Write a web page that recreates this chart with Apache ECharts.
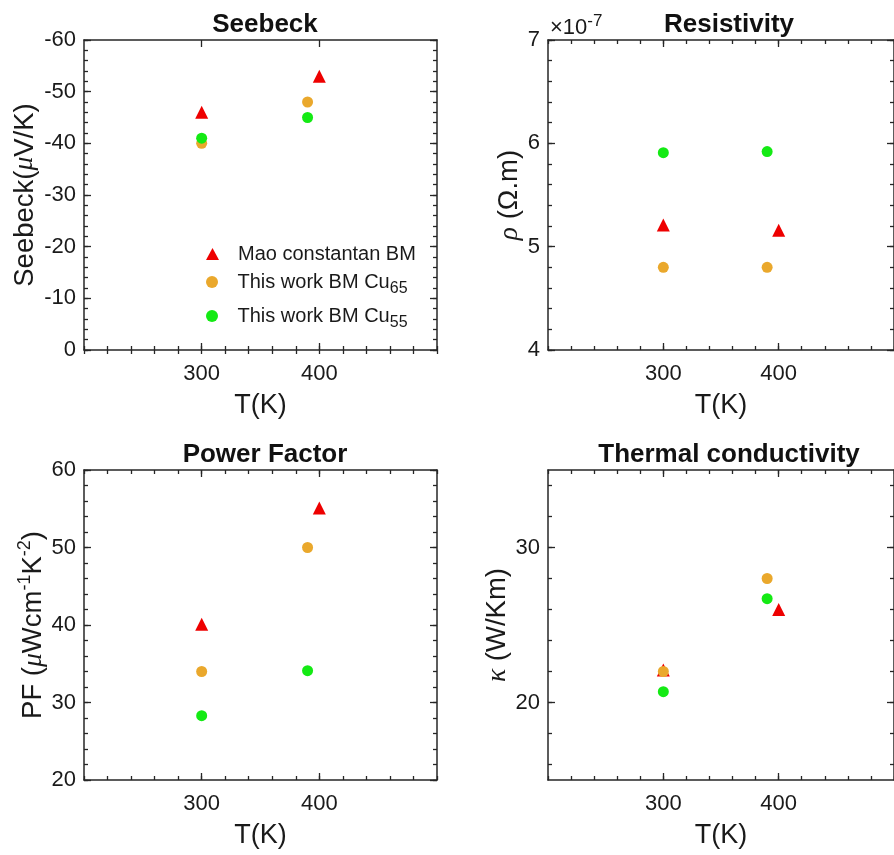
<!DOCTYPE html>
<html>
<head>
<meta charset="utf-8">
<script src="https://cdn.jsdelivr.net/npm/echarts@6/dist/echarts.min.js"></script>
<style>
  html, body { margin: 0; padding: 0; background: #fff; }
  #chart { width: 894px; height: 855px; }
</style>
</head>
<body>
<div id="chart"></div>
<script>
// ---------------- data ----------------
const seriesNames = ['Mao constantan BM', 'This work BM Cu65', 'This work BM Cu55'];
const T_mao = [300, 400];
const T_work = [300, 390];

const seebeckMao = [-46, -53];
const seebeckCu65 = [-40, -48];
const seebeckCu55 = [-41, -45];

const rhoMao = [5.21, 5.16];   // x 1e-7 Ohm.m
const rhoCu65 = [4.8, 4.8];
const rhoCu55 = [5.91, 5.92];

const pfMao = [40.1, 55.1];
const pfCu65 = [34.0, 50.0];
const pfCu55 = [28.3, 34.1];

const kappaMao = [22.1, 26.0];
const kappaCu65 = [22.0, 28.0];
const kappaCu55 = [20.7, 26.7];

// ---------------- ticks ----------------
const xRange = [200, 500];
const xLabels = [300, 400];
const seebeckRange = [-60, 0];
const seebeckLabels = [-60, -50, -40, -30, -20, -10, 0];
const rhoRange = [4, 7];
const rhoLabels = [4, 5, 6, 7];
const pfRange = [20, 60];
const pfLabels = [20, 30, 40, 50, 60];
const kappaRange = [15, 35];
const kappaLabels = [20, 30];

function steps(a, b, s) {
  const out = [];
  const n = Math.round((b - a) / s);
  for (let i = 0; i <= n; i++) out.push(+(a + i * s).toFixed(6));
  return out;
}
const xMinor = steps(200, 500, 20);
const seebeckMinor = steps(-60, 0, 2);
const rhoMinor = steps(4, 7, 0.2);
const pfMinor = steps(20, 60, 2);
const kappaMinor = steps(16, 34, 2);

// ---------------- style ----------------
const FONT = 'Liberation Sans';
const AX = '#262626';
const TXT = '#1a1a1a';
const RED = '#ee0000';
const ORANGE = '#eaa82c';
const GREEN = '#14ea14';

const nameRich = {
  n: { fontSize: 27.5, fontFamily: FONT, color: TXT, lineHeight: 36 },
  m: { fontSize: 27.5, fontFamily: 'Liberation Serif', fontStyle: 'italic', color: TXT, lineHeight: 36 },
  s: { fontSize: 18, fontFamily: FONT, color: TXT, lineHeight: 19, verticalAlign: 'top' }
};

const grids = [
  { left: 84, top: 40, width: 353, height: 310 },
  { left: 548, top: 40, width: 351, height: 310 },
  { left: 84, top: 470, width: 353, height: 310 },
  { left: 548, top: 470, width: 351, height: 310 }
];

const xAxes = [];
const yAxes = [];

function addAxes(g, yCfg) {
  const line = { show: true, onZero: false, lineStyle: { color: AX, width: 1.5 } };
  const tickStyle = { color: AX, width: 1.3 };
  // x bottom major
  xAxes.push({
    gridIndex: g, type: 'value', min: xRange[0], max: xRange[1], position: 'bottom',
    axisLine: line,
    axisTick: { show: true, inside: true, length: 7, customValues: xLabels, lineStyle: tickStyle },
    axisLabel: { show: true, customValues: xLabels, margin: 13, fontSize: 22, color: TXT, fontFamily: FONT },
    splitLine: { show: false },
    name: 'T(K)', nameLocation: 'middle', nameGap: 42,
    nameTextStyle: { fontSize: 27, color: TXT, fontFamily: FONT }
  });
  // x bottom minor
  xAxes.push({
    gridIndex: g, type: 'value', min: xRange[0], max: xRange[1], position: 'bottom',
    axisLine: { show: false },
    axisTick: { show: true, inside: true, length: 4, customValues: xMinor, lineStyle: tickStyle },
    axisLabel: { show: false }, splitLine: { show: false }
  });
  // x top major
  xAxes.push({
    gridIndex: g, type: 'value', min: xRange[0], max: xRange[1], position: 'top',
    axisLine: line,
    axisTick: { show: true, inside: true, length: 7, customValues: xLabels, lineStyle: tickStyle },
    axisLabel: { show: false }, splitLine: { show: false }
  });
  // x top minor
  xAxes.push({
    gridIndex: g, type: 'value', min: xRange[0], max: xRange[1], position: 'top',
    axisLine: { show: false },
    axisTick: { show: true, inside: true, length: 4, customValues: xMinor, lineStyle: tickStyle },
    axisLabel: { show: false }, splitLine: { show: false }
  });
  // y left major
  yAxes.push({
    gridIndex: g, type: 'value', min: yCfg.range[0], max: yCfg.range[1], position: 'left',
    inverse: !!yCfg.inverse,
    axisLine: line,
    axisTick: { show: true, inside: true, length: 7, customValues: yCfg.labels, lineStyle: tickStyle },
    axisLabel: { show: true, customValues: yCfg.labels, margin: 8, fontSize: 22, color: TXT, fontFamily: FONT },
    splitLine: { show: false },
    name: yCfg.name, nameLocation: 'middle', nameGap: yCfg.nameGap,
    nameTextStyle: { rich: nameRich, fontSize: 27.5, fontFamily: FONT, color: TXT }
  });
  // y left minor
  yAxes.push({
    gridIndex: g, type: 'value', min: yCfg.range[0], max: yCfg.range[1], position: 'left',
    inverse: !!yCfg.inverse,
    axisLine: { show: false },
    axisTick: { show: true, inside: true, length: 4, customValues: yCfg.minor, lineStyle: tickStyle },
    axisLabel: { show: false }, splitLine: { show: false }
  });
  // y right major
  yAxes.push({
    gridIndex: g, type: 'value', min: yCfg.range[0], max: yCfg.range[1], position: 'right',
    inverse: !!yCfg.inverse,
    axisLine: line,
    axisTick: { show: true, inside: true, length: 7, customValues: yCfg.labels, lineStyle: tickStyle },
    axisLabel: { show: false }, splitLine: { show: false }
  });
  // y right minor
  yAxes.push({
    gridIndex: g, type: 'value', min: yCfg.range[0], max: yCfg.range[1], position: 'right',
    inverse: !!yCfg.inverse,
    axisLine: { show: false },
    axisTick: { show: true, inside: true, length: 4, customValues: yCfg.minor, lineStyle: tickStyle },
    axisLabel: { show: false }, splitLine: { show: false }
  });
}

addAxes(0, { range: seebeckRange, labels: seebeckLabels, minor: seebeckMinor, inverse: true,
  name: '{n|Seebeck(}{m|μ}{n|V/K)}', nameGap: 41 });
addAxes(1, { range: rhoRange, labels: rhoLabels, minor: rhoMinor,
  name: '{m|ρ}{n| (Ω.m)}', nameGap: 18 });
addAxes(2, { range: pfRange, labels: pfLabels, minor: pfMinor,
  name: '{n|PF (}{m|μ}{n|Wcm}{s|-1}{n|K}{s|-2}{n|)}', nameGap: 32 });
addAxes(3, { range: kappaRange, labels: kappaLabels, minor: kappaMinor,
  name: '{m|κ}{n| (W/Km)}', nameGap: 31 });

const panelData = [
  [seebeckMao, seebeckCu65, seebeckCu55],
  [rhoMao, rhoCu65, rhoCu55],
  [pfMao, pfCu65, pfCu55],
  [kappaMao, kappaCu65, kappaCu55]
];
const colors = [RED, ORANGE, GREEN];
const symbols = ['triangle', 'circle', 'circle'];
const sizes = [13, 11, 11];
const xs = [T_mao, T_work, T_work];

const series = [];
panelData.forEach((sets, g) => {
  sets.forEach((vals, k) => {
    series.push({
      type: 'scatter', name: seriesNames[k],
      xAxisIndex: g * 4, yAxisIndex: g * 4,
      symbol: symbols[k], symbolSize: sizes[k],
      itemStyle: { color: colors[k], opacity: 1 },
      data: vals.map((v, i) => [xs[k][i], v]),
      z: 2 + k
    });
  });
});

const legendRich = {
  pad: { width: 14 },
  n: { fontSize: 20, fontFamily: FONT, color: TXT, lineHeight: 30 },
  sub: { fontSize: 16, fontFamily: FONT, color: TXT, lineHeight: 15, verticalAlign: 'bottom' }
};
function legendLabel(name) {
  if (name.endsWith('65') || name.endsWith('55')) {
    return '{pad|}{n|' + name.slice(0, -2) + '}{sub|' + name.slice(-2) + '}';
  }
  return '{pad|}{n|' + name + '}';
}
const legendTops = [244, 272, 306];
const legends = seriesNames.map((nm, k) => ({
  show: true, orient: 'vertical', left: 206, top: legendTops[k], padding: 0,
  itemWidth: 13, itemHeight: 12,
  data: [{ name: nm, icon: symbols[k] }],
  selectedMode: false,
  formatter: legendLabel,
  textStyle: { rich: legendRich, fontSize: 20, fontFamily: FONT, color: TXT }
}));

const titleStyle = { fontSize: 26, fontWeight: 'bold', fontFamily: FONT, color: '#111' };
const titles = [
  { text: 'Seebeck', left: 260, top: 7, textAlign: 'center', textStyle: titleStyle },
  { text: 'Resistivity', left: 724, top: 7, textAlign: 'center', textStyle: titleStyle },
  { text: 'Power Factor', left: 260, top: 437, textAlign: 'center', textStyle: titleStyle },
  { text: 'Thermal conductivity', left: 724, top: 437, textAlign: 'center', textStyle: titleStyle }
];

const chart = echarts.init(document.getElementById('chart'), null, { renderer: 'canvas' });
chart.setOption({
  backgroundColor: '#fff',
  animation: false,
  title: titles,
  legend: legends,
  grid: grids,
  xAxis: xAxes,
  yAxis: yAxes,
  series: series,
  graphic: [{
    type: 'text', left: 550, top: 13,
    style: {
      text: '{a|×10}{b|-7}',
      rich: {
        a: { fontSize: 22, fontFamily: FONT, fill: TXT, lineHeight: 30 },
        b: { fontSize: 17, fontFamily: FONT, fill: TXT, lineHeight: 16, verticalAlign: 'top' }
      }
    }
  }]
});
</script>
</body>
</html>
